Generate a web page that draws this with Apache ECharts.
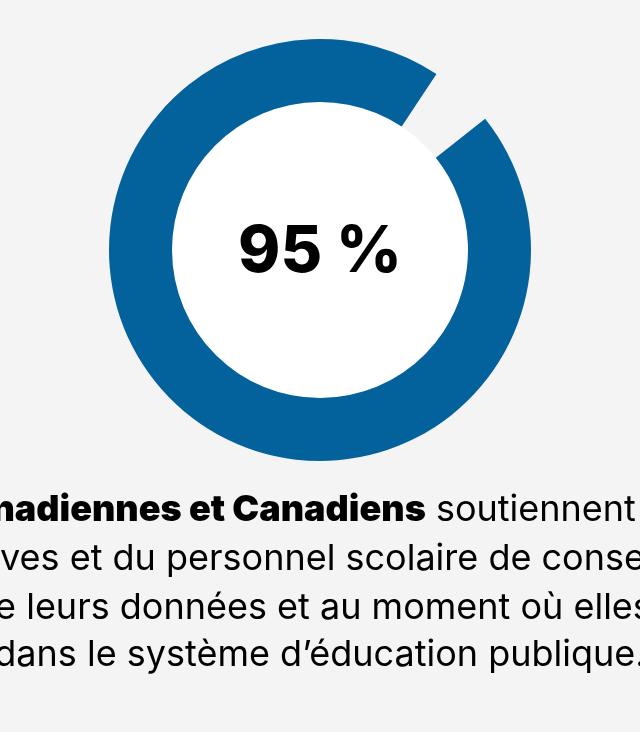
<!DOCTYPE html>
<html>
<head>
<meta charset="utf-8">
<script src="https://cdn.jsdelivr.net/npm/echarts@6/dist/echarts.min.js"></script>
<style>
  html, body { margin: 0; padding: 0; background: #f4f4f4; }
  #chart { width: 640px; height: 732px; }
</style>
</head>
<body>
<div id="chart"></div>
<script>
// Share of respondents (percent) and the remainder
const shareValues = [95, 5];
const shareNames = ['Soutiennent', 'Autres'];
const centerLabel = '95 %';

// Caption lines: [normal prefix, bold part, normal suffix]
const captionLines = [
  ['', 'Canadiennes et Canadiens', ' soutiennent le droit'],
  ['élèves et du personnel scolaire de consentir', '', ''],
  ['de leurs données et au moment où elles sont', '', ''],
  ['dans le système d’éducation publique.', '', '']
];

const BLUE = '#03619c';
const BG = '#f4f4f4';
const FONT = 'Inter, "Noto Sans", sans-serif';

const chart = echarts.init(document.getElementById('chart'), null, { renderer: 'canvas' });

// x anchor of each caption line and its baseline
const lineX = [-57, -50, -27, 320];
const lineAlign = ['left', 'left', 'left', 'center'];
const lineY = [528, 577, 626, 673];

const captionGraphics = captionLines.map((parts, i) => {
  const rich = {
    n: { fontFamily: FONT, fontSize: 36, fontWeight: 'normal', color: '#0d0d0d' },
    b: { fontFamily: FONT, fontSize: 36, fontWeight: 900, color: '#000' }
  };
  let txt = '';
  if (parts[0]) txt += '{n|' + parts[0] + '}';
  if (parts[1]) txt += '{b|' + parts[1] + '}';
  if (parts[2]) txt += '{n|' + parts[2] + '}';
  return {
    type: 'text',
    x: lineX[i],
    y: lineY[i],
    silent: true,
    style: {
      text: txt,
      rich: rich,
      align: lineAlign[i],
      verticalAlign: 'bottom'
    }
  };
});

chart.setOption({
  backgroundColor: BG,
  animation: false,
  series: [
    {
      type: 'pie',
      silent: true,
      center: [320, 250],
      radius: [0, 148],
      label: {
        show: true,
        position: 'center',
        formatter: centerLabel,
        fontFamily: FONT,
        fontWeight: 800,
        fontSize: 64,
        color: '#000'
      },
      labelLayout: { dy: 3 },
      labelLine: { show: false },
      itemStyle: { color: '#ffffff' },
      data: [{ value: 1, name: 'centre' }]
    },
    {
      type: 'pie',
      silent: true,
      center: [320, 250],
      radius: [148, 211],
      startAngle: 38.5,
      clockwise: true,
      label: { show: false },
      labelLine: { show: false },
      data: shareValues.map((v, i) => ({
        value: v,
        name: shareNames[i],
        itemStyle: { color: i === 0 ? BLUE : 'rgba(0,0,0,0)' }
      }))
    }
  ],
  graphic: captionGraphics
});
</script>
</body>
</html>
